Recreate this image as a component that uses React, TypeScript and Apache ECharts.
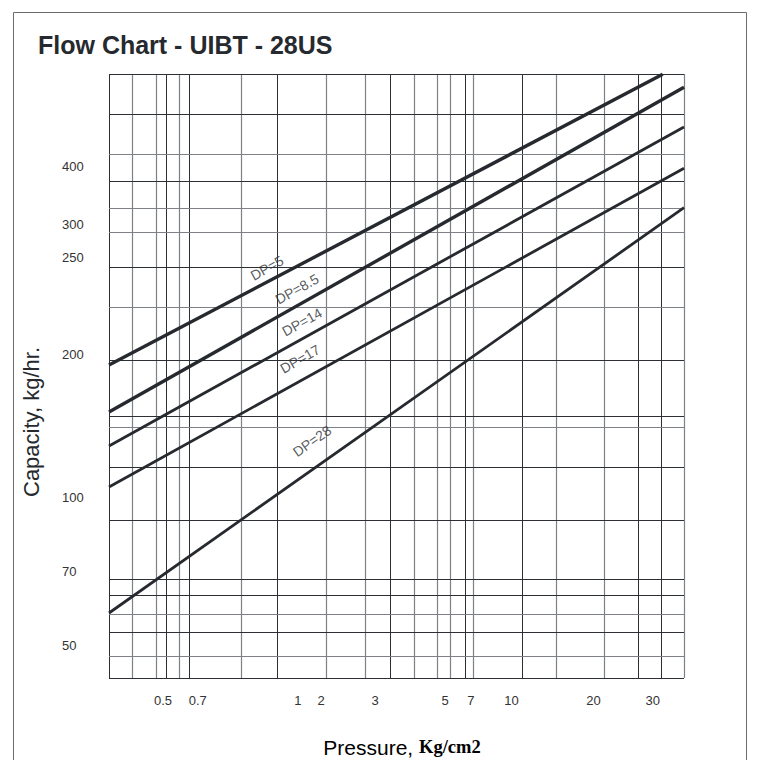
import React, { useEffect, useRef } from "react";
import * as echarts from "echarts";

// Chart position units: x = 0..575 across the plot, y = 0..604 from the bottom edge up.
const X_MAX = 575;
const Y_MAX = 604;

// Curves (DP = pressure drop), endpoints
const curveNames = ["DP=5", "DP=8.5", "DP=14", "DP=17", "DP=28"];
const dp5 = [[0, 313], [553.7, 603.7]];
const dp85 = [[0, 266], [575, 590.7]];
const dp14 = [[0, 232], [575, 551]];
const dp17 = [[0, 191], [575, 509.7]];
const dp28 = [[0, 65], [575, 470.3]];
const curves = [dp5, dp85, dp14, dp17, dp28];

// Curve label anchors
const labelAnchors = [[158, 410], [188, 389], [193, 356], [191, 319], [203, 237]];
const labelAngles = [29, 29, 29, 30, 35];

// Grid lines (dark / grey)
const xGridDark = [0, 57.7, 80.3, 168.3, 281.7, 356.7, 413.7, 529.5, 552.7];
const xGridGrey = [23.7, 47, 70.3, 132.7, 217.3, 256.3, 305, 328.3, 341, 364.3, 447, 495.7, 575];
const yGridDark = [604, 564, 496.3, 410.7, 318, 262, 210.7, 157.3, 98.7, 82.3, 45.3, 0];
const yGridGrey = [523.3, 470, 445.7, 371, 251, 64, 21.3];

// Tick labels
const xTickPos = [54, 88.7, 188.8, 212, 266, 336, 361.9, 402.6, 484.5, 543.8];
const xTickLabels = ["0.5", "0.7", "1", "2", "3", "5", "7", "10", "20", "30"];
const yTickPos = [512, 454, 421, 324, 181, 107, 33];
const yTickLabels = ["400", "300", "250", "200", "100", "70", "50"];

const SANS = "'Liberation Sans', Arial, sans-serif";

export default function App() {
  const ref = useRef<HTMLDivElement>(null);
  useEffect(() => {
    if (!ref.current) return;
    const chart = echarts.init(ref.current, undefined, { renderer: "svg" });
    const dark = "#2c3035";
    const grey = "#7d8084";
    const markData: any[] = [];
    xGridDark.forEach((v) => markData.push({ xAxis: v, lineStyle: { color: dark, width: 1, type: "solid" } }));
    xGridGrey.forEach((v) => markData.push({ xAxis: v, lineStyle: { color: grey, width: 1.2, type: "solid" } }));
    yGridDark.forEach((v) => markData.push({ yAxis: v, lineStyle: { color: dark, width: 1, type: "solid" } }));
    yGridGrey.forEach((v) => markData.push({ yAxis: v, lineStyle: { color: grey, width: 1.2, type: "solid" } }));

    const series: any[] = [
      {
        type: "line",
        name: "grid",
        data: [],
        silent: true,
        markLine: {
          silent: true,
          symbol: ["none", "none"],
          label: { show: false },
          lineStyle: { type: "solid" },
          data: markData,
          animation: false,
        },
      },
    ];
    curves.forEach((c, i) => {
      series.push({
        type: "line",
        name: curveNames[i],
        data: c,
        symbol: "none",
        lineStyle: { color: "#262a2f", width: i < 2 ? 3.4 : 2.8 },
        z: 5,
      });
    });
    series.push({
      type: "scatter",
      name: "labels",
      symbolSize: 1,
      itemStyle: { color: "rgba(0,0,0,0)" },
      z: 6,
      data: labelAnchors.map((p, i) => ({
        name: curveNames[i],
        value: p,
        label: {
          show: true,
          position: "inside",
          formatter: curveNames[i],
          rotate: labelAngles[i],
          fontSize: 14,
          fontFamily: SANS,
          color: "#2e3236",
        },
      })),
    });

    chart.setOption({
      animation: false,
      backgroundColor: "#fff",
      title: {
        text: "Flow Chart - UIBT - 28US",
        left: 33,
        top: 27,
        textStyle: { fontSize: 25, fontWeight: "bold", fontFamily: "'Liberation Sans Narrow', " + SANS, color: "#262a2e" },
      },
      grid: { left: 109, top: 74, width: X_MAX, height: Y_MAX, show: false },
      xAxis: {
        type: "value",
        min: 0,
        max: X_MAX,
        splitLine: { show: false },
        axisLine: { show: false },
        axisTick: { show: false },
        axisLabel: {
          customValues: xTickPos,
          formatter: (v: number) => {
            const i = xTickPos.indexOf(v);
            return i >= 0 ? xTickLabels[i] : "";
          },
          margin: 16,
          fontSize: 13,
          fontFamily: SANS,
          color: "#333",
        },
      },
      yAxis: {
        type: "value",
        min: 0,
        max: Y_MAX,
        splitLine: { show: false },
        axisLine: { show: false },
        axisTick: { show: false },
        axisLabel: {
          customValues: yTickPos,
          formatter: (v: number) => {
            const i = yTickPos.indexOf(v);
            return i >= 0 ? yTickLabels[i] : "";
          },
          align: "left",
          margin: 47,
          fontSize: 13,
          fontFamily: SANS,
          color: "#333",
        },
      },
      graphic: [
        {
          type: "rect",
          shape: { x: 13.5, y: 12.5, width: 733, height: 800 },
          style: { fill: "none", stroke: "#6a6d70", lineWidth: 1 },
          silent: true,
        },
        {
          type: "text",
          x: 31,
          y: 422,
          rotation: Math.PI / 2,
          style: {
            text: "Capacity, kg/hr.",
            fontSize: 22,
            fontFamily: SANS,
            fill: "#262a2e",
            align: "center",
            verticalAlign: "middle",
          },
        },
        {
          type: "text",
          x: 402,
          y: 747,
          style: {
            text: "{a|Pressure, }{b|Kg/cm2}",
            align: "center",
            verticalAlign: "middle",
            rich: {
              a: { fontSize: 21, fontFamily: SANS, color: "#262a2e" },
              b: { fontSize: 18.5, fontFamily: "'Liberation Serif', 'Times New Roman', serif", fontWeight: "bold", color: "#262a2e" },
            },
          },
        },
      ],
      series,
    });
    return () => chart.dispose();
  }, []);
  return (
    <div
      ref={ref}
      style={{ position: "absolute", left: 0, top: 0, width: 758, height: 760, background: "#fff" }}
    />
  );
}
